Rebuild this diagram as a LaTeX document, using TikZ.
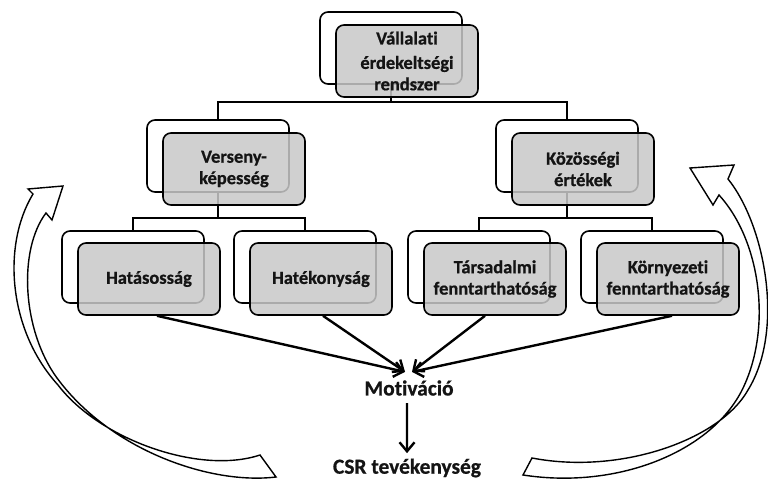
\documentclass[tikz,border=0pt]{standalone}
\usepackage{fontspec}
\setmainfont{Carlito}[Ligatures={NoCommon},BoldFeatures={FakeBold=0.7}]
\usetikzlibrary{arrows.meta,calc,backgrounds}
\definecolor{boxgray}{RGB}{200,200,200}
\definecolor{txt}{RGB}{20,20,20}
\begin{document}
\begin{tikzpicture}[x=1bp,y=-1bp,
  backbox/.style={draw=black, line width=1.6bp, fill=white, rounded corners=8bp,
    minimum width=142bp, minimum height=72bp, inner sep=0pt},
  frontbox/.style={draw=black, line width=1.6bp, fill=boxgray, fill opacity=0.85,
    text opacity=1, rounded corners=8bp, minimum width=142bp, minimum height=72bp,
    align=center, inner sep=0pt, text=txt,
    font=\fontsize{18.5}{21.5}\selectfont\bfseries},
  conn/.style={line width=1.4bp, draw=black},
  arr/.style={line width=2.4bp, -{Straight Barb[length=9bp,width=15bp]}},
  bigarrow/.style={line width=1.4bp, line join=miter, fill=white},
  label/.style={text=txt, font=\fontsize{21.5}{25}\selectfont\bfseries}
]
\useasboundingbox (0,0) rectangle (768,483);

% boxes
\node[backbox] (A0) at (391,48) {};
\node[frontbox] (A) at (407,61) {Vállalati\\[3bp]érdekeltségi\\rendszer};
\node[backbox] (B0) at (218,156) {};
\node[frontbox] (B) at (234,169) {Verseny-\\képesség};
\node[backbox] (C0) at (567,156) {};
\node[frontbox] (C) at (583,169) {Közösségi\\értékek};
\node[backbox] (D0) at (133,267) {};
\node[frontbox] (D) at (149,279) {Hatásosság};
\node[backbox] (E0) at (305,267) {};
\node[frontbox] (E) at (321,279) {Hatékonyság};
\node[backbox] (F0) at (479,267) {};
\node[frontbox] (F) at (495,279) {Társadalmi\\fenntarthatóság};
\node[backbox] (G0) at (652,267) {};
\node[frontbox] (G) at (668,279) {Környezeti\\fenntarthatóság};

\begin{pgfonlayer}{background}
\draw[conn] (A0.south) |- ([yshift=17bp]B0.north) -- (B0.north);
\draw[conn] (A0.south) |- ([yshift=17bp]C0.north) -- (C0.north);
\draw[conn] (B0.south) |- ([yshift=12bp]D0.north) -- (D0.north);
\draw[conn] (B0.south) |- ([yshift=12bp]E0.north) -- (E0.north);
\draw[conn] (C0.south) |- ([yshift=12bp]F0.north) -- (F0.north);
\draw[conn] (C0.south) |- ([yshift=12bp]G0.north) -- (G0.north);
\end{pgfonlayer}

\node[label] (mot) at (409,388) {Motiváció};
\node[label] (csr) at (407,468) {CSR tevékenység};

\draw[arr] ([xshift=8bp]D.south) -- ([xshift=-4bp,yshift=5bp]mot.north);
\draw[arr] ([xshift=2bp]E.south) -- ([xshift=-4bp,yshift=5bp]mot.north);
\draw[arr] ([xshift=-10bp]F.south) -- ([xshift=3bp,yshift=5bp]mot.north);
\draw[arr] ([xshift=4bp]G.south) -- ([xshift=3bp,yshift=5bp]mot.north);
\draw[arr] ([xshift=-2bp,yshift=-4bp]mot.south) -- ([xshift=0bp,yshift=2bp]csr.north);

% left curved arrow
\draw[bigarrow] (63,186) -- (28,189) -- (33,194)
  .. controls (2,245) and (8,330) .. (58,385)
  .. controls (100,440) and (200,475) .. (260,455)
  -- (276,477)
  .. controls (210,485) and (110,450) .. (57,378)
  .. controls (22,330) and (18,250) .. (46,213)
  -- (52,220) -- cycle;

% right curved arrow
\draw[bigarrow] (690,168) -- (734,165) -- (728,179)
  .. controls (765,225) and (785,330) .. (748,390)
  .. controls (720,440) and (620,475) .. (532,458)
  -- (523,475)
  .. controls (620,490) and (715,450) .. (744,386)
  .. controls (772,325) and (760,240) .. (719,195)
  -- (713,205) -- cycle;
\end{tikzpicture}
\end{document}
